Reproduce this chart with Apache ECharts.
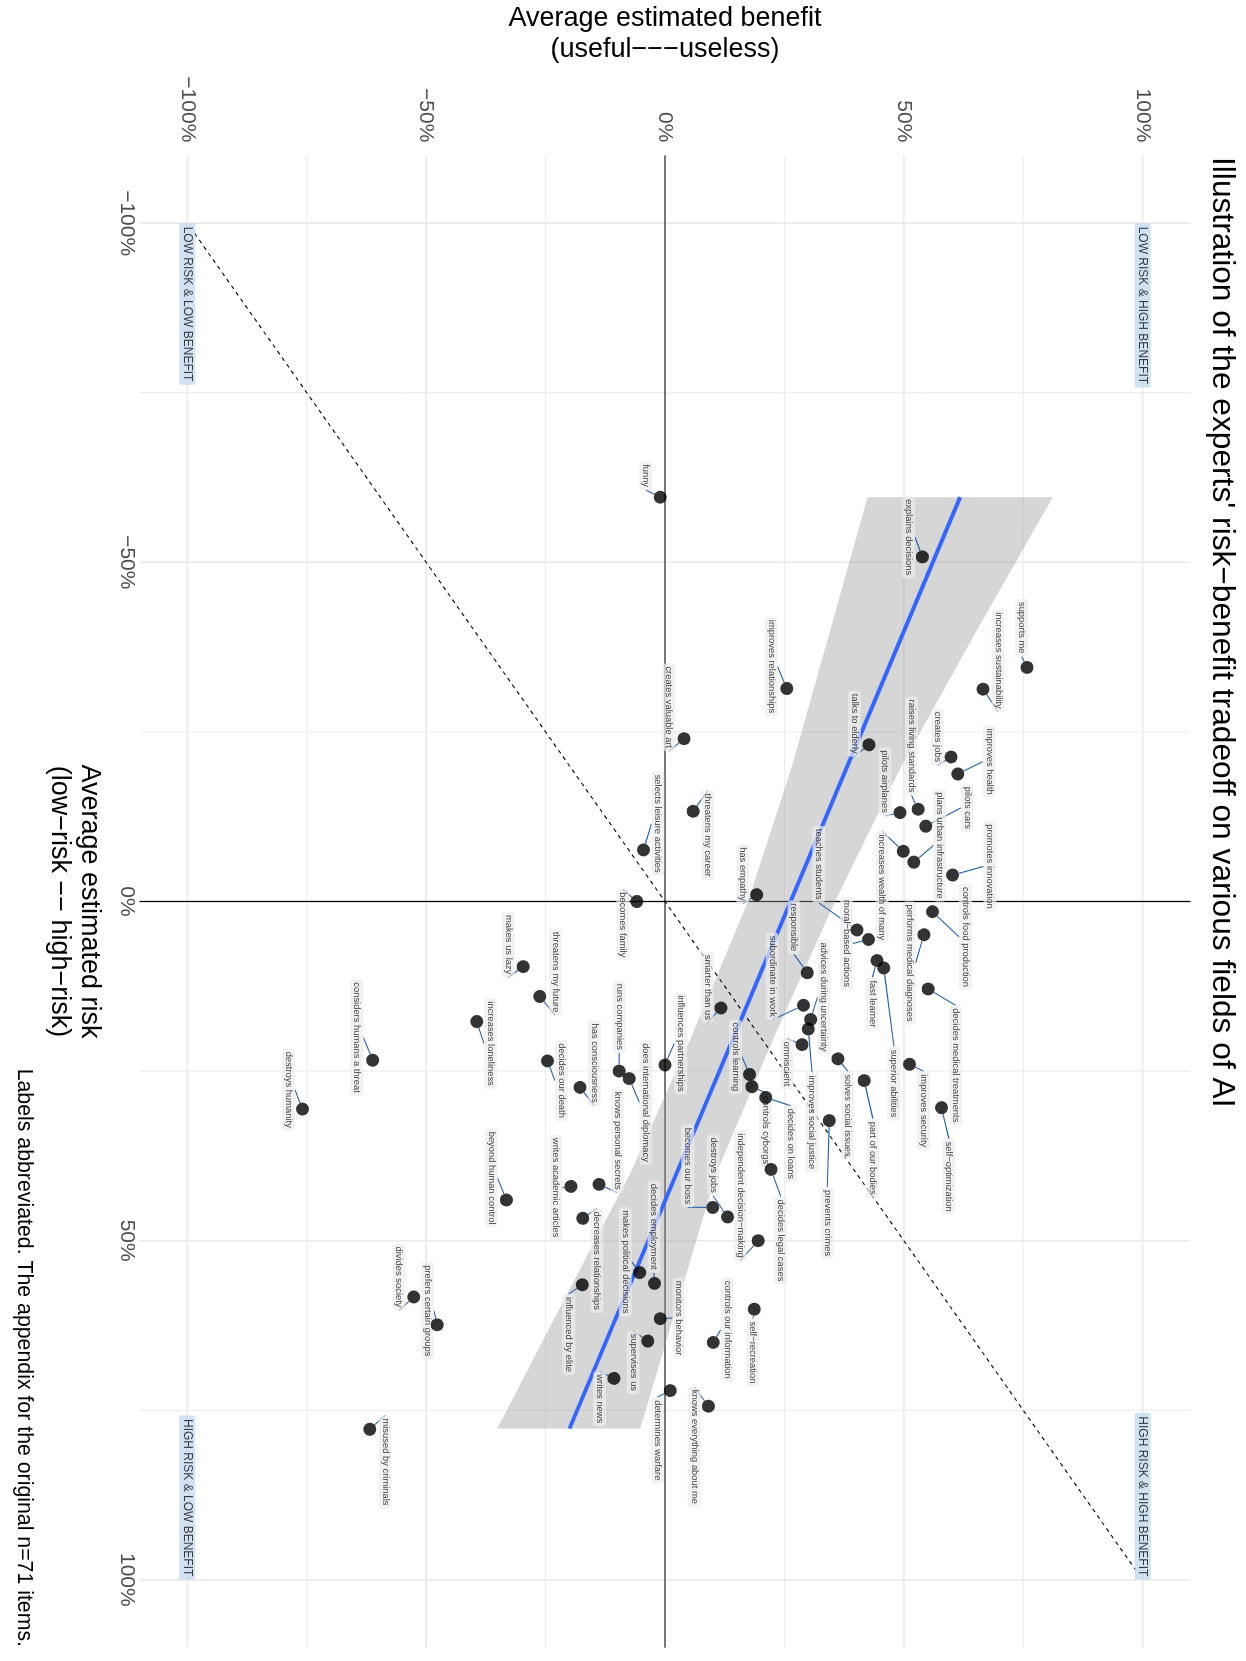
<!DOCTYPE html>
<html>
<head>
<meta charset="utf-8">
<title>experts' risk-benefit tradeoff</title>
<script src="https://cdn.jsdelivr.net/npm/echarts@6/dist/echarts.min.js"></script>
<style>
  html, body { margin: 0; padding: 0; background: #fff; overflow: hidden; }
  #page { position: relative; width: 1246px; height: 1661px; overflow: hidden; }
  /* the plot is laid out landscape and then turned a quarter clockwise */
  #chart { position: absolute; left: 0; top: 0; width: 1661px; height: 1246px;
           transform-origin: 0 0; transform: translate(1246px, 0) rotate(90deg); }
</style>
</head>
<body>
<div id="page"><div id="chart"></div></div>
<script>
// items: name, average risk (%), average benefit (%)
const itemNames = [
  'funny', 'explains decisions', 'supports me', 'increases sustainability', 'improves relationships',
  'creates valuable art', 'talks to elderly', 'creates jobs', 'raises living standards', 'improves health',
  'pilots airplanes', 'pilots cars', 'plans urban infrastructure', 'increases wealth of many', 'promotes innovation',
  'has empathy', 'selects leisure activities', 'threatens my career', 'becomes family', 'teaches students',
  'moral−based actions', 'controls food production', 'performs medical diagnoses', 'responsible', 'subordinate in work',
  'advices during uncertainty', 'fast learner', 'superior abilities', 'decides medical treatments', 'smarter than us',
  'runs companies', 'influences partnerships', 'does international diplomacy', 'controls learning', 'omniscient',
  'improves social justice', 'solves social issues', 'part of our bodies', 'improves security', 'self−optimization',
  'controls cyborgs', 'decides on loans', 'prevents crimes', 'decides legal cases', 'independent decision−making',
  'destroys jobs', 'becomes our boss', 'knows personal secrets', 'makes us lazy', 'threatens my future',
  'considers humans a threat', 'increases loneliness', 'destroys humanity', 'decides our death', 'has consciousness',
  'beyond human control', 'writes academic articles', 'decreases relationships', 'makes political decisions', 'decides employment',
  'influenced by elite', 'divides society', 'prefers certain groups', 'monitors behavior', 'supervises us',
  'writes news', 'misused by criminals', 'determines warfare', 'knows everything about me', 'controls our information',
  'self−recreation'
];
const riskValues = [
  -59.6, -50.8, -34.5, -31.3, -31.4, -24.0, -23.1, -21.3, -13.6, -18.8,
  -13.1, -11.1, -5.8, -7.4, -3.9, -1.0, -7.6, -13.3, 0.0, 4.2,
  5.6, 1.5, 4.9, 10.5, 15.3, 17.4, 8.7, 9.8, 12.9, 15.7,
  25.0, 24.1, 26.1, 25.5, 21.1, 18.8, 23.2, 26.4, 24.0, 30.4,
  27.3, 28.9, 32.3, 39.5, 50.0, 46.5, 45.1, 41.7, 9.6, 14.0,
  23.4, 17.7, 30.6, 23.5, 27.4, 44.0, 42.0, 46.7, 54.7, 56.3,
  56.5, 58.3, 62.4, 61.5, 64.8, 70.3, 77.8, 72.1, 74.4, 65.0,
  60.1
];
const benefitValues = [
  -1.0, 53.9, 75.8, 66.6, 25.5, 4.0, 42.7, 59.9, 53.0, 61.3,
  49.2, 54.6, 52.1, 49.9, 60.2, 19.2, -4.5, 5.9, -5.9, 40.2,
  42.6, 56.0, 54.2, 29.8, 29.0, 30.5, 44.4, 45.8, 55.1, 11.7,
  -9.6, 0.0, -7.5, 17.7, 28.7, 30.0, 36.2, 41.7, 51.2, 57.9,
  18.2, 21.1, 34.4, 22.2, 19.5, 13.1, 10.0, -13.8, -29.7, -26.2,
  -61.2, -39.4, -75.9, -24.6, -17.8, -33.2, -19.7, -17.2, -5.3, -2.2,
  -17.3, -52.6, -47.7, -1.0, -3.6, -10.7, -61.8, 1.1, 9.1, 10.1,
  18.7
];

// linear fit and its confidence band
const fitRisk = [-59.6, 77.7];
const fitBenefit = [61.8, -20.0];
const bandRisk = [-59.6, -40, -20, 0, 20, 40, 60, 77.7];
const bandLow = [42.4, 34.6, 26.6, 17.4, 5.5, -7.2, -22.1, -35.1];
const bandHigh = [81.2, 65.3, 49.5, 35.6, 22.8, 10.8, 2.3, -5.2];

// equal risk and benefit
const diagRisk = [-98.5, 98.5];
const diagBenefit = [-98.5, 98.5];

const quadrantNames = ['LOW RISK & HIGH BENEFIT', 'LOW RISK & LOW BENEFIT', 'HIGH RISK & HIGH BENEFIT', 'HIGH RISK & LOW BENEFIT'];
const quadrantRisk = [-100, -100, 100, 100];
const quadrantBenefit = [100, -100, 100, -100];

const tickValues = [-100, -50, 0, 50, 100];
const minorValues = [-75, -25, 25, 75];

// label placement (pixels, relative to the point), like the repelled labels
const labelOffsets = [
  [-21.6, 14.3], [-19.7, 14], [-39.7, 5.3], [-28.6, -15], [-22, 15.7],
  [-31.4, 15.3], [-21, 14.7], [-20, 13.7], [-63.3, 6.6], [-12.3, -31.3],
  [-31, 15], [-18.3, -41.6], [-16.7, -26], [36, 21.3], [-8.6, -37.4],
  [-20.7, 14], [-26.3, -14.4], [24, -14.7], [23.3, 14], [-65.7, 38.3],
  [4, 22], [25.3, -33], [28.3, 14.7], [-45.4, 13.3], [-29, 31.4],
  [-22.6, -13.3], [43.4, 4.7], [115.6, -10.3], [76.3, -27.4], [-20.7, 13.7],
  [-54.3, 0], [-21.6, -15.7], [24, -16.7], [-17.6, 14], [19.3, 15],
  [93.3, -3.7], [56.7, -10], [77.6, -8.7], [46.4, -14], [69, -7.3],
  [43.3, -13.7], [46.3, -24.7], [102.4, 2], [71, -9.7], [-45.2, 18],
  [-51.7, 14.4], [-41.5, 25], [-43.6, -18.3], [-22, 15], [-24.4, -15.3],
  [-22.7, 15.7], [22, -13.6], [-19.3, 14], [19.7, -14], [-24.3, -14.3],
  [-21.9, 15.3], [1.2, 15], [42.4, -14], [-10.7, 14.4], [-56.7, 0.6],
  [49.7, 13.6], [-20, 14.7], [-14, 9.7], [-0.7, -18.7], [21.3, 14.7],
  [20.4, 14.3], [32.7, -15.3], [49.7, 13], [40.7, 14.3], [-12.7, -14],
  [43.3, 1.3]
];

const fontFamily = "'Liberation Sans', Arial, Helvetica, sans-serif";

function pct(v) {
  return (v < 0 ? '−' : '') + Math.abs(v) + '%';
}

// grid lines: [value, 0 = risk line / 1 = benefit line, 1 = major]
const gridData = [];
tickValues.forEach(v => { gridData.push([v, 0, 1]); gridData.push([v, 1, 1]); });
minorValues.forEach(v => { gridData.push([v, 0, 0]); gridData.push([v, 1, 0]); });

function fullLine(params, api, value, dir) {
  const cs = params.coordSys;
  if (dir === 0) {
    const x = api.coord([value, 0])[0];
    return { x1: x, y1: cs.y, x2: x, y2: cs.y + cs.height };
  }
  const y = api.coord([0, value])[1];
  return { x1: cs.x, y1: y, x2: cs.x + cs.width, y2: y };
}

const chart = echarts.init(document.getElementById('chart'), null, { width: 1661, height: 1246 });

chart.setOption({
  backgroundColor: '#fff',
  animation: false,
  grid: { left: 155.3, right: 13.3, top: 55.6, bottom: 139.6, containLabel: false, outerBoundsMode: 'none' },
  xAxis: {
    type: 'value', min: -110, max: 110,
    axisLine: { show: false },
    axisTick: { show: false, customValues: tickValues },
    splitLine: { show: false },
    axisLabel: { customValues: tickValues, formatter: pct, margin: 2, fontSize: 21, color: '#4d4d4d', fontFamily },
    name: 'Average estimated risk\n(low−risk −− high−risk)',
    nameLocation: 'middle', nameGap: 35,
    nameTextStyle: { fontSize: 27, lineHeight: 30, color: '#000', fontFamily }
  },
  yAxis: {
    type: 'value', min: -110, max: 110,
    axisLine: { show: false },
    axisTick: { show: false, customValues: tickValues },
    splitLine: { show: false },
    axisLabel: { customValues: tickValues, formatter: pct, margin: 13, fontSize: 21, color: '#4d4d4d', fontFamily },
    name: 'Average estimated benefit\n(useful−−−useless)',
    nameLocation: 'middle', nameGap: 60, nameRotate: 90,
    nameTextStyle: { fontSize: 27, lineHeight: 31, color: '#000', fontFamily }
  },
  graphic: [
    {
      type: 'text', x: 157, y: 24, silent: true,
      style: { text: "Illustration of the experts' risk−benefit tradeoff on various fields of AI",
               fontSize: 31.7, fontFamily, fill: '#000', align: 'left', verticalAlign: 'middle' }
    },
    {
      type: 'text', x: 1647, y: 1222, silent: true,
      style: { text: 'Labels abbreviated. The appendix for the original n=71 items.',
               fontSize: 21.3, fontFamily, fill: '#000', align: 'right', verticalAlign: 'middle' }
    }
  ],
  series: [
    {
      // background grid
      type: 'custom', silent: true, z: 0,
      data: gridData,
      renderItem(params, api) {
        const major = api.value(2) === 1;
        return {
          type: 'line',
          shape: fullLine(params, api, api.value(0), api.value(1)),
          style: { stroke: '#ebebeb', lineWidth: major ? 1.7 : 1 }
        };
      }
    },
    {
      // zero lines
      type: 'custom', silent: true, z: 1,
      data: [[0, 0], [0, 1]],
      renderItem(params, api) {
        return {
          type: 'line',
          shape: fullLine(params, api, api.value(0), api.value(1)),
          style: { stroke: '#000', lineWidth: 1.2 }
        };
      }
    },
    {
      // confidence band of the fit
      type: 'custom', silent: true, z: 2,
      data: bandRisk.map((r, i) => [r, bandLow[i], bandHigh[i]]),
      renderItem(params, api) {
        if (params.dataIndex !== 0) return null;
        const pts = [];
        bandRisk.forEach((r, i) => pts.push(api.coord([r, bandHigh[i]])));
        for (let i = bandRisk.length - 1; i >= 0; i--) pts.push(api.coord([bandRisk[i], bandLow[i]]));
        return { type: 'polygon', shape: { points: pts }, style: { fill: 'rgba(153,153,153,0.4)' } };
      }
    },
    {
      type: 'line', silent: true, z: 3, symbol: 'none',
      data: diagRisk.map((r, i) => [r, diagBenefit[i]]),
      lineStyle: { color: '#000', width: 1.1, type: [4, 4] }
    },
    {
      type: 'line', silent: true, z: 4, symbol: 'none',
      data: fitRisk.map((r, i) => [r, fitBenefit[i]]),
      lineStyle: { color: '#3366ff', width: 4 }
    },
    {
      // quadrant labels
      type: 'scatter', silent: true, z: 5, symbolSize: 0.1,
      itemStyle: { color: 'rgba(0,0,0,0)' },
      data: quadrantRisk.map((r, i) => ({
        value: [r, quadrantBenefit[i]],
        label: { position: r < 0 ? 'right' : 'left' }
      })),
      label: {
        show: true, distance: 0, formatter: p => quadrantNames[p.dataIndex],
        fontSize: 12, lineHeight: 13, color: '#111', fontFamily,
        backgroundColor: '#c6dbef', padding: [1.5, 3.5], borderRadius: 2
      }
    },
    {
      // item labels with guide segments
      type: 'scatter', silent: true, z: 6, symbolSize: 13,
      itemStyle: { color: 'rgba(0,0,0,0)' },
      data: riskValues.map((r, i) => [r, benefitValues[i]]),
      label: {
        show: true, position: 'inside', formatter: p => itemNames[p.dataIndex],
        fontSize: 9.4, lineHeight: 10.5, color: '#111', fontFamily,
        textBorderWidth: 0,
        backgroundColor: 'rgba(236,236,236,0.88)', padding: [1.2, 3], borderRadius: 3.5
      },
      labelLine: { show: true, lineStyle: { color: '#1f63b0', width: 1.1 } },
      labelLayout: p => ({ dx: labelOffsets[p.dataIndex][0], dy: labelOffsets[p.dataIndex][1] })
    },
    {
      // the points on top
      type: 'scatter', silent: true, z: 7, symbolSize: 13,
      itemStyle: { color: '#000' },
      data: riskValues.map((r, i) => [r, benefitValues[i]])
    }
  ]
});
</script>
</body>
</html>
